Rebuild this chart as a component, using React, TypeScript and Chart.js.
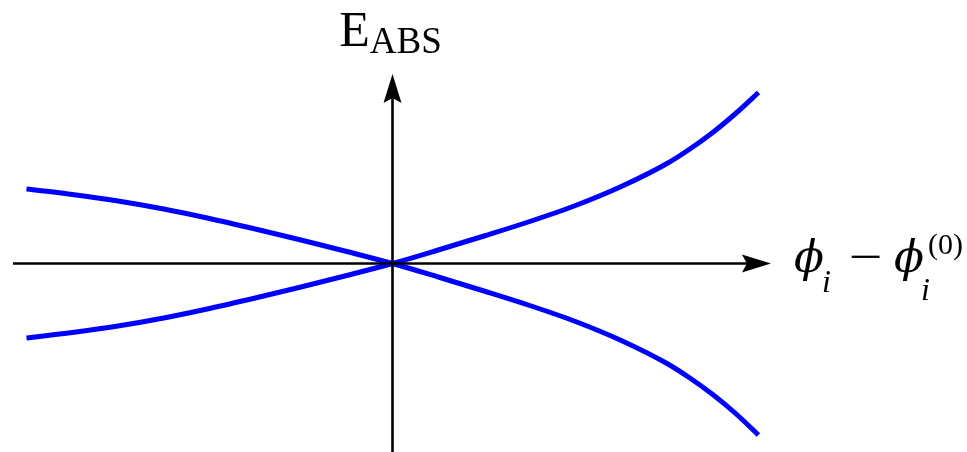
import React, { useEffect, useRef } from "react";
import { Chart, registerables } from "chart.js";

Chart.register(...registerables);

// Phase displacement (horizontal) and the two energy branches (vertical).
const PHASE_SHIFT = [
  -1, -0.875, -0.75, -0.625, -0.5, -0.375, -0.25, -0.125, 0,
  0.125, 0.25, 0.375, 0.5, 0.625, 0.75, 0.8125, 0.875, 0.9375, 1,
];
const ENERGY_RISING = [
  -0.745, -0.69, -0.625, -0.545, -0.45, -0.345, -0.235, -0.12, 0,
  0.135, 0.275, 0.42, 0.58, 0.77, 1.0, 1.145, 1.31, 1.5, 1.71,
];
const ENERGY_FALLING = [
  0.745, 0.69, 0.625, 0.545, 0.45, 0.345, 0.235, 0.12, 0,
  -0.135, -0.275, -0.42, -0.58, -0.77, -1.0, -1.145, -1.31, -1.5, -1.715,
];

// Visible window of the plane and the extent of the drawn axes.
const X_RANGE = [-1.0724, 1.5697];
const Y_RANGE = [-1.885, 2.635];
const AXIS_X_EXTENT = [-1.037, 1.034];
const AXIS_Y_TOP = 1.895;

const Y_TITLE = "E";
const Y_TITLE_SUB = "ABS";
const PHI = "\u03D5";
const X_SUB = "i";
const X_SUP = "(0)";
const MINUS = "\u2212";

const SERIF = '"Liberation Serif", "DejaVu Serif", serif';
const PHI_FONT = '"DejaVu Serif", "Liberation Serif", serif';

function arrowHead(ctx: CanvasRenderingContext2D, tipX: number, tipY: number, dx: number, dy: number) {
  // dx, dy: unit direction the arrow points to
  const len = 29;
  const half = 9;
  const notch = 24;
  const px = -dy;
  const py = dx;
  ctx.beginPath();
  ctx.moveTo(tipX, tipY);
  ctx.lineTo(tipX - dx * len + px * half, tipY - dy * len + py * half);
  ctx.lineTo(tipX - dx * notch, tipY - dy * notch);
  ctx.lineTo(tipX - dx * len - px * half, tipY - dy * len - py * half);
  ctx.closePath();
  ctx.fill();
}

const axesPlugin = {
  id: "arrowAxes",
  afterDatasetsDraw(chart: any) {
    const { ctx } = chart;
    const xs = chart.scales.x;
    const ys = chart.scales.y;
    const ox = xs.getPixelForValue(0);
    const oy = ys.getPixelForValue(0);
    const xl = xs.getPixelForValue(AXIS_X_EXTENT[0]);
    const xr = xs.getPixelForValue(AXIS_X_EXTENT[1]);
    const yt = ys.getPixelForValue(AXIS_Y_TOP);
    const yb = chart.height;

    ctx.save();
    ctx.strokeStyle = "#000";
    ctx.fillStyle = "#000";
    ctx.lineWidth = 2.6;
    ctx.lineCap = "butt";
    ctx.beginPath();
    ctx.moveTo(xl, oy);
    ctx.lineTo(xr - 22, oy);
    ctx.stroke();
    ctx.beginPath();
    ctx.moveTo(ox, yb);
    ctx.lineTo(ox, yt + 22);
    ctx.stroke();
    arrowHead(ctx, xr, oy, 1, 0);
    arrowHead(ctx, ox, yt, 0, -1);

    // vertical axis title: E with subscript ABS
    ctx.textBaseline = "alphabetic";
    ctx.textAlign = "left";
    ctx.font = `50px ${SERIF}`;
    const wE = ctx.measureText(Y_TITLE).width;
    ctx.font = `37px ${SERIF}`;
    const wS = ctx.measureText(Y_TITLE_SUB).width;
    const tx = ox - 2 - (wE + wS) / 2;
    const tb = yt - 28;
    ctx.font = `50px ${SERIF}`;
    ctx.fillText(Y_TITLE, tx, tb);
    ctx.font = `37px ${SERIF}`;
    ctx.fillText(Y_TITLE_SUB, tx + wE, tb + 7);

    // horizontal axis title: phi_i - phi_i^(0)
    const x0 = xr + 23;
    const base = oy + 8;
    ctx.font = `italic 44px ${PHI_FONT}`;
    ctx.fillText(PHI, x0, base);
    ctx.font = `italic 32px ${SERIF}`;
    ctx.fillText(X_SUB, x0 + 28, base + 20);
    ctx.save();
    ctx.translate(x0 + 55, base);
    ctx.scale(1.3, 1);
    ctx.font = `46px ${SERIF}`;
    ctx.fillText(MINUS, 0, 0);
    ctx.restore();
    ctx.font = `italic 44px ${PHI_FONT}`;
    ctx.fillText(PHI, x0 + 100, base);
    ctx.font = `italic 32px ${SERIF}`;
    ctx.fillText(X_SUB, x0 + 127, base + 28);
    ctx.font = `30px ${SERIF}`;
    ctx.fillText(X_SUP, x0 + 134, base - 18);
    ctx.restore();
  },
};

export default function App() {
  const ref = useRef<HTMLCanvasElement>(null);

  useEffect(() => {
    document.body.style.margin = "0";
    const canvas = ref.current;
    if (!canvas) return;
    const branch = (values: number[]) => PHASE_SHIFT.map((p, i) => ({ x: p, y: values[i] }));
    const lineStyle = {
      borderColor: "#0000ff",
      borderWidth: 5,
      pointRadius: 0,
      fill: false,
      cubicInterpolationMode: "monotone" as const,
    };
    const chart = new Chart(canvas, {
      type: "line",
      data: {
        datasets: [
          { data: branch(ENERGY_FALLING), ...lineStyle },
          { data: branch(ENERGY_RISING), ...lineStyle },
        ],
      },
      options: {
        responsive: false,
        animation: false,
        devicePixelRatio: 1,
        layout: { padding: 0 },
        scales: {
          x: { type: "linear", min: X_RANGE[0], max: X_RANGE[1], display: false },
          y: { type: "linear", min: Y_RANGE[0], max: Y_RANGE[1], display: false },
        },
        plugins: { legend: { display: false }, tooltip: { enabled: false } },
      },
      plugins: [axesPlugin],
    });
    return () => chart.destroy();
  }, []);

  return (
    <div style={{ width: 967, height: 452, background: "#fff" }}>
      <canvas ref={ref} width={967} height={452} style={{ display: "block" }} />
    </div>
  );
}
